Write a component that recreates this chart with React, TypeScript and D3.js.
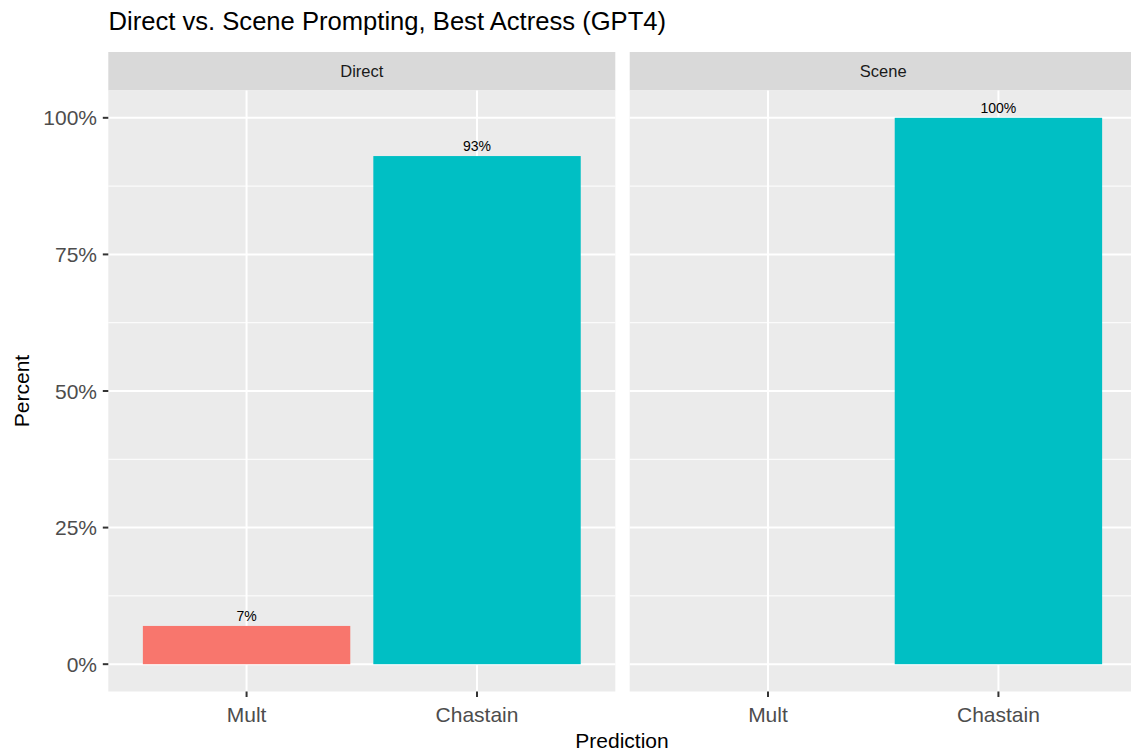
import React from "react";
import * as d3 from "d3";

const categories = ["Mult", "Chastain"];
const facets = ["Direct", "Scene"];
const directValues: (number | null)[] = [0.07, 0.93];
const sceneValues: (number | null)[] = [null, 1.0];
const yTicks = [0, 0.25, 0.5, 0.75, 1.0];
const yMinor = [0.125, 0.375, 0.625, 0.875];
const barColors = ["#F8766D", "#00BFC4"];
const title = "Direct vs. Scene Prompting, Best Actress (GPT4)";

const W = 1131;
const H = 753;
const FONT = "'Liberation Sans', Arial, Helvetica, sans-serif";

export default function App() {
  const panelW = 507;
  const panelXs = [108.3, 629.7];
  const stripTop = 52;
  const stripBottom = 90.5;
  const panelTop = 90.5;
  const panelBottom = 691.5;

  const y = d3.scaleLinear().domain([-0.05, 1.05]).range([panelBottom, panelTop]);
  const seriesByFacet = [directValues, sceneValues];
  const pct = d3.format(".0%");

  return (
    <svg
      width={W}
      height={H}
      style={{ position: "absolute", left: 0, top: 0, background: "#fff" }}
      fontFamily={FONT}
    >
      <text x={108.5} y={30} fontSize={25.6} fill="#000">
        {title}
      </text>

      {facets.map((f, fi) => {
        const x0 = panelXs[fi];
        const x = d3
          .scalePoint<string>()
          .domain(categories)
          .range([x0, x0 + panelW])
          .padding(0.6);
        const step = x.step();
        const bw = step * 0.9;
        const vals = seriesByFacet[fi];
        return (
          <g key={f}>
            <rect x={x0} y={stripTop} width={panelW} height={stripBottom - stripTop} fill="#D9D9D9" />
            <text
              x={x0 + panelW / 2}
              y={(stripTop + stripBottom) / 2 + 6}
              textAnchor="middle"
              fontSize={16.5}
              fill="#1A1A1A"
            >
              {f}
            </text>
            <rect x={x0} y={panelTop} width={panelW} height={panelBottom - panelTop} fill="#EBEBEB" />
            {yMinor.map((t) => (
              <line key={"mn" + t} x1={x0} x2={x0 + panelW} y1={y(t)} y2={y(t)} stroke="#fff" strokeWidth={1} />
            ))}
            {yTicks.map((t) => (
              <line key={"mj" + t} x1={x0} x2={x0 + panelW} y1={y(t)} y2={y(t)} stroke="#fff" strokeWidth={2} />
            ))}
            {categories.map((c) => (
              <line key={"xg" + c} x1={x(c)} x2={x(c)} y1={panelTop} y2={panelBottom} stroke="#fff" strokeWidth={2} />
            ))}
            {categories.map((c, i) => {
              const v = vals[i];
              if (v == null) return null;
              const cx = x(c) as number;
              return (
                <g key={"bar" + c}>
                  <rect x={cx - bw / 2} y={y(v)} width={bw} height={y(0) - y(v)} fill={barColors[i]} />
                  <text x={cx} y={y(v) - 5} textAnchor="middle" fontSize={14} fill="#000">
                    {pct(v)}
                  </text>
                </g>
              );
            })}
            {categories.map((c) => (
              <g key={"xt" + c}>
                <line x1={x(c)} x2={x(c)} y1={panelBottom} y2={panelBottom + 5.5} stroke="#333" strokeWidth={2} />
                <text x={x(c)} y={722} textAnchor="middle" fontSize={21} fill="#4D4D4D">
                  {c}
                </text>
              </g>
            ))}
          </g>
        );
      })}

      {yTicks.map((t) => (
        <g key={"yt" + t}>
          <line x1={102.8} x2={108.3} y1={y(t)} y2={y(t)} stroke="#333" strokeWidth={2} />
          <text x={97} y={y(t) + 7.5} textAnchor="end" fontSize={21} fill="#4D4D4D">
            {pct(t)}
          </text>
        </g>
      ))}

      <text x={622} y={748} textAnchor="middle" fontSize={21} fill="#000">
        Prediction
      </text>
      <text
        transform={`translate(29, ${(panelTop + panelBottom) / 2}) rotate(-90)`}
        textAnchor="middle"
        fontSize={21}
        fill="#000"
      >
        Percent
      </text>
    </svg>
  );
}
